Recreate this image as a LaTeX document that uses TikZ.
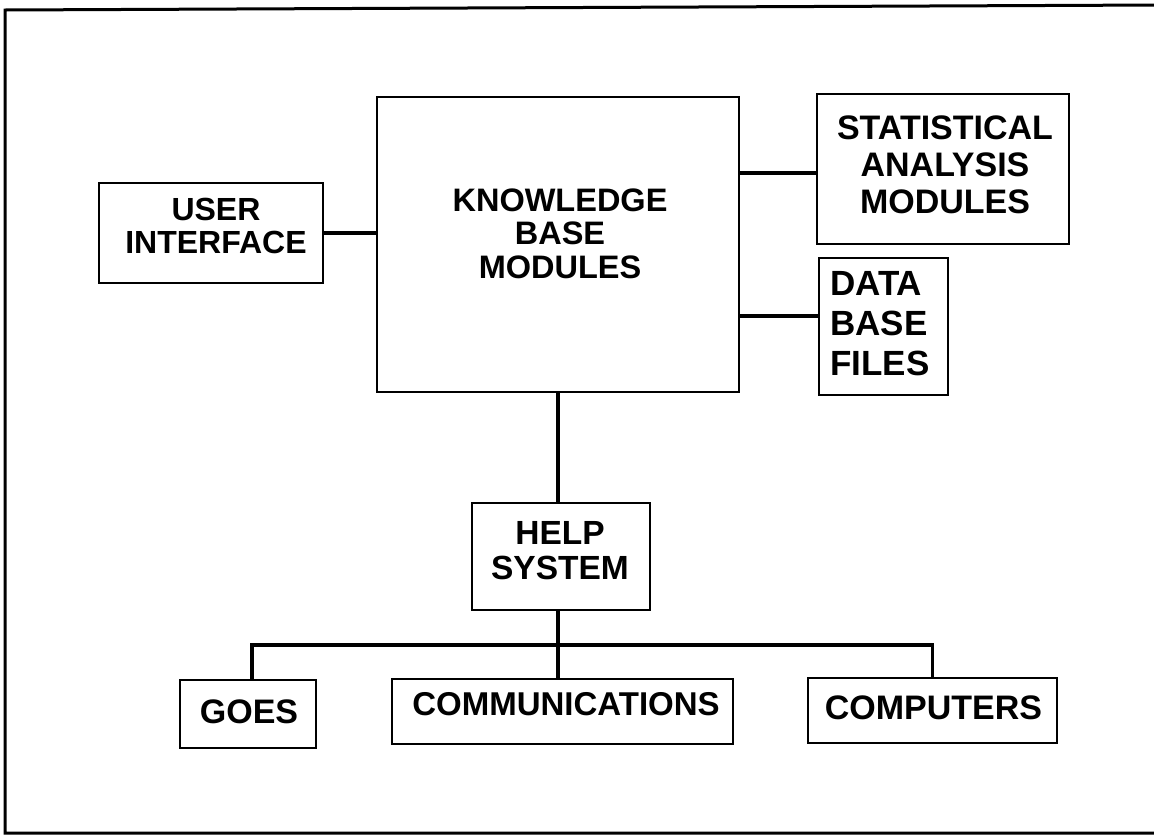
\documentclass[tikz,border=0pt]{standalone}
\usepackage{fontspec}
\setmainfont{Liberation Sans}
\newcommand{\lf}[2]{\fontsize{#1}{#2}\selectfont\bfseries}
\begin{document}
\begin{tikzpicture}[x=1pt,y=-1pt,
  box/.style={draw, line width=2pt, inner sep=0pt},
  lbl/.style={inner sep=0pt, align=center},
  link/.style={line width=3.4pt, line join=miter}]
\useasboundingbox (0,0) rectangle (1154,836);
\draw[line width=3pt] (1160,5) -- (5,10) -- (5,833) -- (1160,833);
% boxes
\node[box, minimum width=224, minimum height=100] (ui) at (211,233) {};
\node[box, minimum width=362, minimum height=295] (kb) at (558,244.5) {};
\node[box, minimum width=252, minimum height=150] (stat) at (943,169) {};
\node[box, minimum width=129, minimum height=137] (data) at (883.5,326.5) {};
\node[box, minimum width=178, minimum height=107] (help) at (561,556.5) {};
\node[box, minimum width=136, minimum height=68] (goes) at (248,714) {};
\node[box, minimum width=341, minimum height=65] (comm) at (562.5,711.5) {};
\node[box, minimum width=249, minimum height=65] (comp) at (932.5,710.5) {};
% labels
\node[lbl, font=\lf{32}{33}] (uit) at (216,226) {USER\\INTERFACE};
\node[lbl, font=\lf{32.5}{33.5}] (kbt) at (560,233.5) {KNOWLEDGE\\BASE\\MODULES};
\node[lbl, font=\lf{34}{37}] (statt) at (945,165) {STATISTICAL\\ANALYSIS\\MODULES};
\node[lbl, align=left, anchor=west, font=\lf{35}{40}] (datat) at (830,323.5) {DATA\\BASE\\FILES};
\node[lbl, font=\lf{33.5}{35}] (helpt) at (560,551) {HELP\\SYSTEM};
\node[lbl, font=\lf{34}{34}] (goest) at (249,712) {GOES};
\node[lbl, font=\lf{33}{33}] (commt) at (566,704.5) {COMMUNICATIONS};
\node[lbl, font=\lf{34}{34}] (compt) at (933.5,708) {COMPUTERS};
% connectors
\draw[link] (ui.east) -- (ui.east -| kb.west);
\draw[link] (kb.east |- 0,173) -- (stat.west |- 0,173);
\draw[link] (kb.east |- 0,316) -- (data.west |- 0,316);
\draw[link] (kb.south) -- (kb.south |- help.north);
\coordinate (bus) at (558,645);
\draw[link] (bus |- help.south) -- (bus);
\draw[link] (goes.north -| 252,0) |- (bus) -| (comp.north);
\draw[link] (bus) -- (bus |- comm.north);
\end{tikzpicture}
\end{document}
